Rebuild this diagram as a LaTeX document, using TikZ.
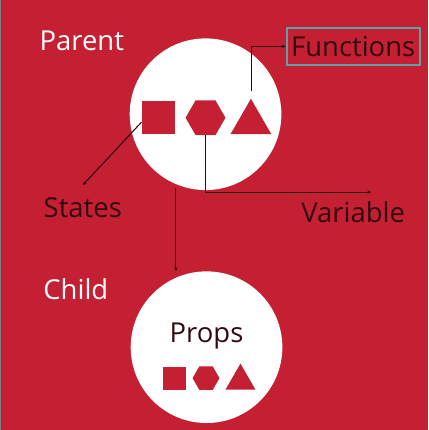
\documentclass[tikz,border=0pt]{standalone}
\usepackage{fontspec}
\setmainfont{Open Sans}
\usetikzlibrary{shapes.geometric,arrows.meta}

\definecolor{bgred}{RGB}{196,31,51}
\definecolor{ink}{RGB}{50,10,14}
\definecolor{boxteal}{RGB}{95,160,166}

\tikzset{
  circ/.style={circle,fill=white,minimum size=152pt,inner sep=0pt},
  sq/.style={rectangle,fill=bgred,inner sep=0pt},
  hexa/.style={regular polygon,regular polygon sides=6,fill=bgred,inner sep=0pt},
  tri/.style={regular polygon,regular polygon sides=3,fill=bgred,inner sep=0pt},
  lbl/.style={anchor=base,inner sep=0pt,font=\fontsize{27.5}{30}\selectfont,text=ink},
  link/.style={draw=ink,line width=1.1pt,-{Stealth[length=4pt,width=3.5pt]}}
}

\begin{document}
\begin{tikzpicture}[x=1pt,y=-1pt]
\fill[bgred] (0,0) rectangle (429,430);
\draw[gray,line width=1pt] (0.5,0)--(0.5,430);
\useasboundingbox (0,0) rectangle (429,430);

% parent
\node[circ] (par) at (206,114) {};
\node[sq,minimum size=33pt] (st) at (158.5,117.5) {};
\node[hexa,minimum size=40pt] (hx) at (206,117.5) {};
\node[tri,minimum size=47.3pt] (tr) at (251.5,122.2) {};

\node[lbl,text=white] (parl) at (82,50) {Parent};
\node[lbl,draw=boxteal,line width=2pt,text height=20pt,text depth=0pt,
      minimum width=133pt,minimum height=37pt] (fn) at (354,56) {Functions};
\node[lbl] (stl) at (83,218) {States};
\node[lbl] (val) at (354,223) {Variable};

\coordinate (fa) at (252,91);
\coordinate (sa) at (83,185);
\coordinate (va) at (372,192);

\draw[link] (fa) |- (fn.west);
\draw[link] (st.195) -- (sa);
\draw[link] (hx.south) |- (va);

% child
\node[circ] (ch) at (207,347.5) {};
\node[lbl,text=white] (chl) at (76,300) {Child};
\node[lbl] (pr) at (207,343) {Props};
\node[sq,minimum size=23pt] (st2) at (174.5,378.5) {};
\node[hexa,minimum size=27pt] (hx2) at (206.5,378.5) {};
\node[tri,minimum size=34.6pt] (tr2) at (241,381.3) {};

\draw[link,shorten <=4pt] (par.247) -- (par.247 |- ch.north);
\end{tikzpicture}
\end{document}
